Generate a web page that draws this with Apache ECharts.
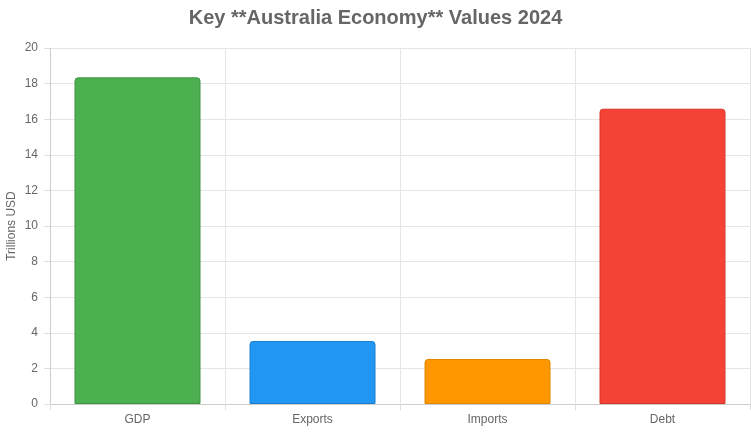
<!DOCTYPE html>
<html><head><meta charset="utf-8">
<script src="https://cdn.jsdelivr.net/npm/echarts@6/dist/echarts.min.js"></script>
<style>html,body{margin:0;padding:0;background:#fff}#c{width:751px;height:433px}</style>
</head><body><div id="c"></div>
<script>
const titleText = 'Key **Australia Economy** Values 2024';
const categories = ['GDP', 'Exports', 'Imports', 'Debt'];
const values = [18.35, 3.54, 2.53, 16.59];
const fillColors = ['#4CAF50', '#2196F3', '#FF9800', '#F44336'];
const borderColors = ['#3E9142', '#1A7FD0', '#E08600', '#D8372B'];
const yTicks = {min: 0, max: 20, interval: 2};
const yName = 'Trillions USD';

const chart = echarts.init(document.getElementById('c'));
const font = 'Liberation Sans, Arial, sans-serif';
chart.setOption({
  animation: false,
  title: {text: titleText, left: 'center', top: 3,
    textStyle: {fontFamily: font, fontSize: 20, fontWeight: 'bold', color: '#666'}},
  grid: {left: 50, right: 1, top: 48, bottom: 29, containLabel: false, outerBoundsMode: 'none'},
  xAxis: {type: 'category', data: categories,
    axisLine: {lineStyle: {color: '#ccc'}},
    axisTick: {show: true, length: 6, lineStyle: {color: '#ddd'}},
    axisLabel: {color: '#666', fontFamily: font, fontSize: 12, margin: 10},
    splitLine: {show: true, lineStyle: {color: '#e5e5e5'}}},
  yAxis: {type: 'value', min: yTicks.min, max: yTicks.max, interval: yTicks.interval,
    name: yName, nameLocation: 'middle', nameGap: 32, nameRotate: 90, nameMoveOverlap: false,
    nameTextStyle: {color: '#666', fontFamily: font, fontSize: 12},
    axisLine: {show: true, lineStyle: {color: '#ccc'}},
    axisTick: {show: true, length: 6, lineStyle: {color: '#ddd'}},
    axisLabel: {color: '#666', fontFamily: font, fontSize: 12, margin: 12},
    splitLine: {show: true, lineStyle: {color: '#e5e5e5'}}},
  series: [{type: 'bar', barCategoryGap: '28%',
    data: values.map((v, i) => ({value: v, itemStyle: {color: fillColors[i], borderColor: borderColors[i], borderWidth: 1, borderRadius: [3, 3, 0, 0]}}))}]
});
</script></body></html>
